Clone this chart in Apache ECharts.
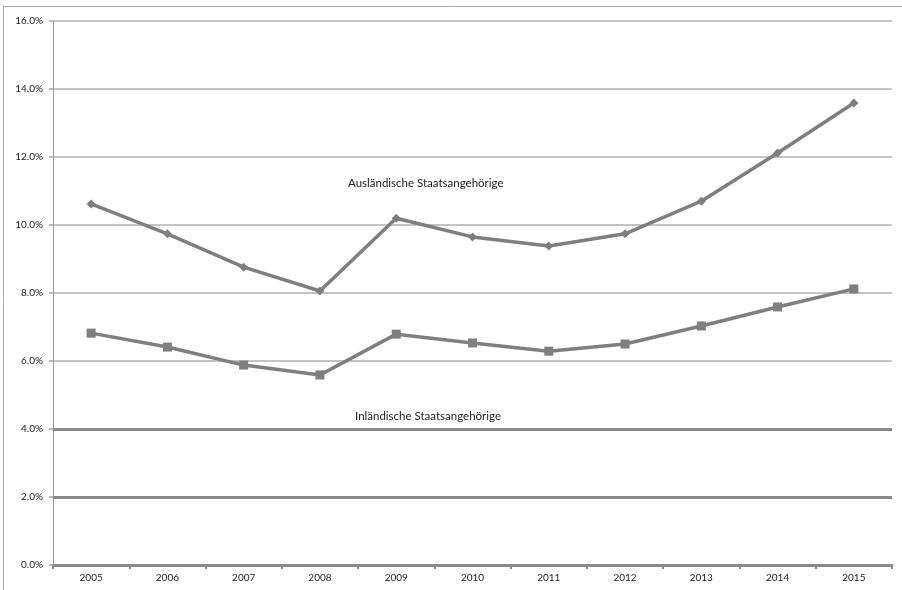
<!DOCTYPE html>
<html><head><meta charset="utf-8">
<script src="https://cdn.jsdelivr.net/npm/echarts@6/dist/echarts.min.js"></script>
<style>html,body{margin:0;padding:0;background:#fff}#c{width:902px;height:590px}</style>
</head><body><div id="c"></div>
<script>
const years = ['2005','2006','2007','2008','2009','2010','2011','2012','2013','2014','2015'];
const auslaendisch = [10.62, 9.74, 8.76, 8.06, 10.2, 9.65, 9.38, 9.74, 10.7, 12.12, 13.59];
const inlaendisch = [6.82, 6.41, 5.88, 5.59, 6.79, 6.53, 6.29, 6.5, 7.03, 7.59, 8.12];
const heavyLines = [0, 2, 4];
const labelAus = 'Ausländische Staatsangehörige';
const labelInl = 'Inländische Staatsangehörige';

const chart = echarts.init(document.getElementById('c'));
const font = 'Lato, "Open Sans", sans-serif';
chart.setOption({
  animation: false,
  grid: {left: 53, right: 10, top: 21, bottom: 25, containLabel: false},
  xAxis: {
    type: 'category', data: years, boundaryGap: true,
    axisLine: {show: true, lineStyle: {color: '#8a8a8a', width: 3}},
    axisTick: {show: true, length: 4, lineStyle: {color: '#8a8a8a', width: 2}},
    axisLabel: {color: '#222', fontSize: 10, fontFamily: font, margin: 8},
    splitLine: {show: false}
  },
  yAxis: {
    type: 'value', min: 0, max: 16, interval: 2,
    axisLine: {show: true, lineStyle: {color: '#999', width: 1}},
    axisTick: {show: true, length: 4, lineStyle: {color: '#bbb', width: 2}},
    axisLabel: {color: '#222', fontSize: 10, fontFamily: font, margin: 10,
      formatter: v => v.toFixed(1) + '%'},
    splitLine: {show: true, lineStyle: {color: '#c4c4c4', width: 2}}
  },
  series: [
    {
      name: labelAus, type: 'line', data: auslaendisch,
      symbol: 'diamond', symbolSize: 9,
      lineStyle: {color: '#7f7f7f', width: 3.5},
      itemStyle: {color: '#7f7f7f'},
      markLine: {
        silent: true, symbol: 'none', label: {show: false},
        lineStyle: {color: '#8a8a8a', width: 3, type: 'solid'},
        data: heavyLines.map(v => ({yAxis: v}))
      }
    },
    {
      name: labelInl, type: 'line', data: inlaendisch,
      symbol: 'rect', symbolSize: 9,
      lineStyle: {color: '#7f7f7f', width: 3.5},
      itemStyle: {color: '#7f7f7f'}
    }
  ],
  graphic: [
    {type: 'line', shape: {x1: 3.5, y1: 6, x2: 3.5, y2: 600}, style: {stroke: '#aaa', lineWidth: 1}},
    {type: 'line', shape: {x1: 3, y1: 6.5, x2: 902, y2: 6.5}, style: {stroke: '#aaa', lineWidth: 1}},
    {type: 'text', left: 348, top: 177, style: {text: labelAus, fontSize: 11.5, fontFamily: font, fill: '#222'}},
    {type: 'text', left: 355, top: 410, style: {text: labelInl, fontSize: 11.5, fontFamily: font, fill: '#222'}}
  ]
});
</script></body></html>
